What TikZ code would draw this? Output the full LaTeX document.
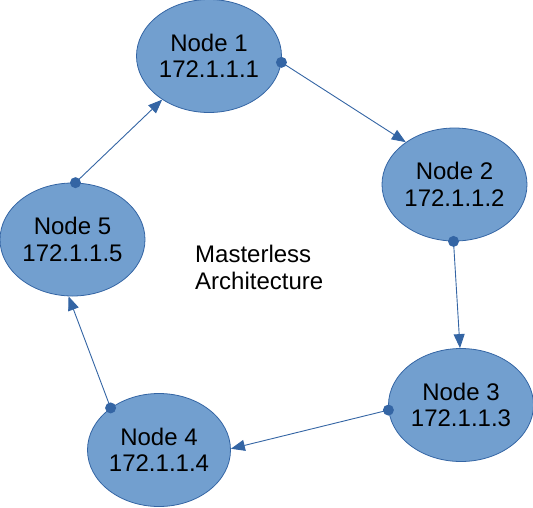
\documentclass[tikz,border=0pt]{standalone}
\usepackage{fontspec}
\setmainfont{Liberation Sans}
\usetikzlibrary{shapes.geometric,arrows.meta}
\definecolor{nodefill}{HTML}{729FCF}
\definecolor{nodeline}{HTML}{3465A4}
\tikzset{
  netnode/.style={ellipse, draw=nodeline, line width=0.8pt, fill=nodefill, inner sep=0pt,
    minimum width=145pt, minimum height=113pt, align=center,
    font=\fontsize{24}{26.5}\selectfont},
  link/.style={draw=nodeline, line width=0.9pt, -{Triangle[length=14pt,width=11pt]}},
  startdot/.style={fill=nodeline, draw=none},
}
\begin{document}
\begin{tikzpicture}[x=1pt,y=-1pt]
\useasboundingbox (0,0) rectangle (533,507);
\node[netnode] (n1) at (209,56) {Node 1\\172.1.1.1};
\node[netnode] (n2) at (454.5,184.5) {Node 2\\172.1.1.2};
\node[netnode] (n3) at (461,405) {Node 3\\172.1.1.3};
\node[netnode, minimum width=143pt] (n4) at (159,450) {Node 4\\172.1.1.4};
\node[netnode] (n5) at (72.5,239.5) {Node 5\\172.1.1.5};
\node[align=left, anchor=north west, inner sep=0pt,
  font=\fontsize{24}{26.5}\selectfont] (lbl) at (195,245) {Masterless\\Architecture};
\draw[link] (n1.-5) -- (n2.139);
\draw[link] (n2.-91) -- (n3.91);
\draw[link] (n3.184) -- (n4.1);
\draw[link] (n4.139) -- (n5.-94);
\draw[link] (n5.87) -- (n1.-137);
\fill[startdot] (n1.-5) circle (5.5pt);
\fill[startdot] (n2.-91) circle (5.5pt);
\fill[startdot] (n3.184) circle (5.5pt);
\fill[startdot] (n4.139) circle (5.5pt);
\fill[startdot] (n5.87) circle (5.5pt);
\end{tikzpicture}
\end{document}
